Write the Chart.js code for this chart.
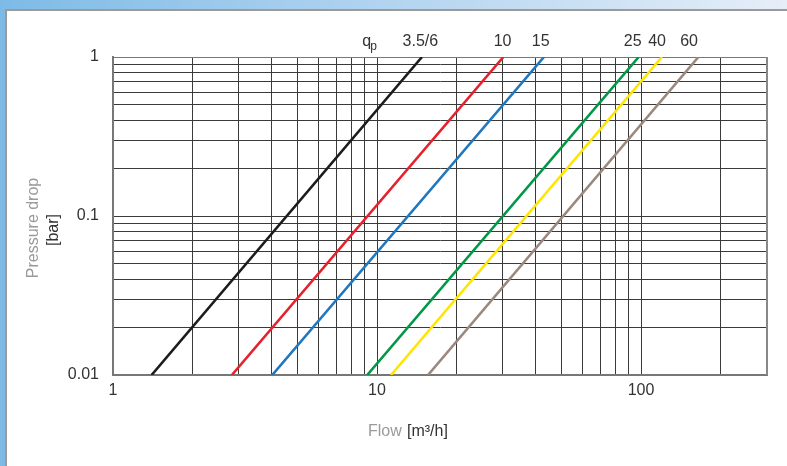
<!DOCTYPE html>
<html>
<head>
<meta charset="utf-8">
<script src="https://cdn.jsdelivr.net/npm/chart.js@4"></script>
<style>
  html, body { margin:0; padding:0; width:787px; height:466px; overflow:hidden; background:#fff; }
  #leftStrip { position:absolute; left:0; top:0; width:5px; height:466px; background:#7dbbe6; }
  #topStrip { position:absolute; left:0; top:0; width:787px; height:9px; background:linear-gradient(to right,#7dbbe6,#a9cfee 40%,#e6eef8); }
  #panel { position:absolute; left:5px; top:9px; right:0; bottom:0; background:#fff; border-left:2px solid #9a9a9a; border-top:2px solid #9a9a9a; }
  #c { position:absolute; left:0; top:0; }
</style>
</head>
<body>
<div id="leftStrip"></div>
<div id="topStrip"></div>
<div id="panel"></div>
<canvas id="c" width="787" height="466"></canvas>
<script>
// ---- data ----
const seriesNames   = ['3.5/6', '10', '15', '25', '40', '60'];
const pressureEnds  = [0.01, 1];                              // bar
const flowAtLow     = [1.40, 2.82, 4.01, 9.18, 11.3, 15.6];   // m3/h at 0.01 bar
const flowAtHigh    = [14.8, 30.1, 42.9, 98.0, 120, 165];     // m3/h at 1 bar
const labelFlows    = [14.6, 29.9, 41.7, 93, 115, 152];       // where q_p labels sit
const qpFlow        = 9.3;
const seriesColors  = ['#1c1c1c', '#e5222b', '#1f77c0', '#009846', '#ffe500', '#9a887e'];

const xGridValues   = [1,2,3,4,5,6,7,8,9,10,20,30,40,50,60,70,80,90,100,200,300];
const xLabelValues  = [1, 10, 100];
const xLabels       = ['1', '10', '100'];
const yGridValues   = [0.01,0.02,0.03,0.04,0.05,0.06,0.07,0.08,0.09,0.1,0.2,0.3,0.4,0.5,0.6,0.7,0.8,0.9,1];
const yLabelValues  = [0.01, 0.1, 1];
const yLabels       = ['0.01', '0.1', '1'];

const FONT = '"Liberation Sans Narrow", "Liberation Sans", Arial, sans-serif';

function labelFor(vals, labels, v) {
  for (let i = 0; i < vals.length; i++) if (Math.abs(vals[i] - v) < 1e-9 * Math.max(1, vals[i])) return labels[i];
  return '';
}

const datasets = seriesNames.map((n, i) => ({
  label: n,
  data: [{x: flowAtLow[i], y: pressureEnds[0]}, {x: flowAtHigh[i], y: pressureEnds[1]}],
  borderColor: seriesColors[i],
  borderWidth: 2.6,
  pointRadius: 0,
  showLine: true,
  fill: false,
  xAxisID: 'x',
  yAxisID: 'y'
}));

const textPlugin = {
  id: 'texts',
  afterDraw(chart) {
    const ctx = chart.ctx;
    ctx.save();
    ctx.font = '16px ' + FONT;
    ctx.textBaseline = 'middle';
    // y title
    ctx.save();
    ctx.translate(34, 228);
    ctx.rotate(-Math.PI / 2);
    ctx.textAlign = 'center';
    ctx.fillStyle = '#9a9a9a';
    ctx.fillText('Pressure drop', 0, 0);
    ctx.restore();
    ctx.save();
    ctx.translate(54, 230);
    ctx.rotate(-Math.PI / 2);
    ctx.textAlign = 'center';
    ctx.fillStyle = '#333';
    ctx.fillText('[bar]', 0, 0);
    ctx.restore();
    // x title
    ctx.textAlign = 'left';
    ctx.fillStyle = '#9a9a9a';
    ctx.fillText('Flow', 368, 432);
    ctx.fillStyle = '#333';
    ctx.fillText('[m³/h]', 407, 432);
    // q_p
    const xs = chart.scales.x2;
    const px = xs.getPixelForValue(qpFlow);
    ctx.textAlign = 'center';
    ctx.fillText('q', px - 2, 42);
    ctx.font = '12px ' + FONT;
    ctx.fillText('p', px + 5, 47);
    ctx.restore();
  }
};

new Chart(document.getElementById('c'), {
  type: 'scatter',
  data: { datasets },
  options: {
    responsive: false,
    animation: false,
    layout: { padding: { left: 0, right: 20, top: 0, bottom: 0 } },
    plugins: { legend: { display: false }, tooltip: { enabled: false } },
    scales: {
      x: {
        type: 'logarithmic', position: 'bottom', min: 1, max: 300,
        afterBuildTicks: s => { s.ticks = xGridValues.map(v => ({ value: v })); },
        afterFit: s => { s.height = 91; },
        grid: { color: '#3a3a3a', lineWidth: 1, drawTicks: false },
        border: { color: '#777', width: 2 },
        ticks: {
          autoSkip: false, maxRotation: 0, padding: 6, color: '#333',
          font: { family: FONT, size: 16 },
          callback: v => labelFor(xLabelValues, xLabels, v)
        }
      },
      x2: {
        type: 'logarithmic', position: 'top', min: 1, max: 300,
        afterBuildTicks: s => { s.ticks = labelFlows.map(v => ({ value: v })); },
        afterFit: s => { s.height = 57; },
        grid: { display: false, drawTicks: false },
        border: { color: '#777', width: 1 },
        ticks: {
          autoSkip: false, maxRotation: 0, padding: 6, color: '#333',
          font: { family: FONT, size: 16 },
          callback: (v, i) => seriesNames[i]
        }
      },
      y: {
        type: 'logarithmic', position: 'left', min: 0.01, max: 1,
        afterBuildTicks: s => { s.ticks = yGridValues.map(v => ({ value: v })); },
        afterFit: s => { s.width = 113; },
        grid: { color: '#3a3a3a', lineWidth: 1, drawTicks: false },
        border: { color: '#777', width: 2 },
        ticks: {
          autoSkip: false, padding: 14, color: '#333',
          font: { family: FONT, size: 16 },
          callback: v => labelFor(yLabelValues, yLabels, v)
        }
      }
    }
  },
  plugins: [textPlugin, {
    id: 'rightBorder',
    afterDatasetsDraw() {},
    beforeDatasetsDraw(chart) {
      const { ctx, chartArea: a } = chart;
      ctx.save();
      ctx.strokeStyle = '#888';
      ctx.lineWidth = 2;
      ctx.beginPath();
      ctx.moveTo(a.right, a.top); ctx.lineTo(a.right, a.bottom);
      ctx.stroke();
      ctx.restore();
    }
  }]
});
</script>
</body>
</html>
